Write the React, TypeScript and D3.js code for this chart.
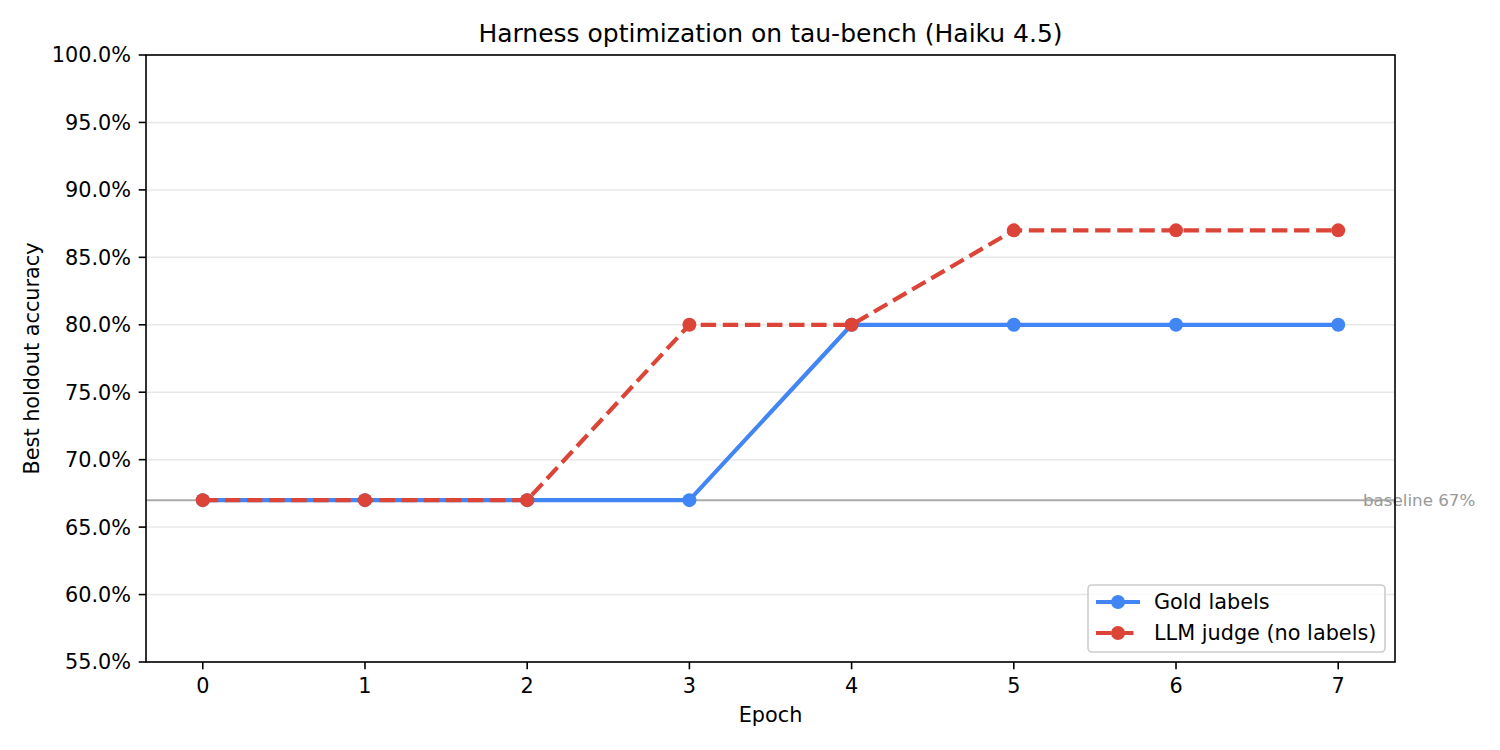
import React from "react";
import * as d3 from "d3";

const epochs = [0, 1, 2, 3, 4, 5, 6, 7];
const goldLabels = [67, 67, 67, 67, 80, 80, 80, 80];
const llmJudge = [67, 67, 67, 80, 80, 87, 87, 87];
const yTicks = [55, 60, 65, 70, 75, 80, 85, 90, 95, 100];
const baselineValue = 67;
const seriesNames = ["Gold labels", "LLM judge (no labels)"];

const W = 1500, H = 750;
const L = 146, R = 1395, T = 55, B = 662;
const BLUE = "#4285F4";
const RED = "#DB4437";
const FONT = "DejaVu Sans, sans-serif";
const FS = 20.8;

export default function App() {
  const x = d3.scaleLinear().domain([-0.35, 7.35]).range([L, R]);
  const y = d3.scaleLinear().domain([55, 100]).range([B, T]);
  const line = d3.line<number>().x((_, i) => x(epochs[i])).y((d) => y(d));

  return (
    <svg width={W} height={H} style={{ position: "absolute", left: 0, top: 0, background: "#fff" }} fontFamily={FONT}>
      <rect x={0} y={0} width={W} height={H} fill="#fff" />
      {yTicks.map((t) => (
        <line key={"g" + t} x1={L} x2={R} y1={y(t)} y2={y(t)} stroke="#e8e8e8" strokeWidth={1.5} />
      ))}
      <line x1={L} x2={R} y1={y(baselineValue)} y2={y(baselineValue)} stroke="#aaaaaa" strokeWidth={2} />
      <text x={1363} y={y(baselineValue)} dy="0.35em" fontSize={16.7} fill="#999999">baseline 67%</text>
      <path d={line(goldLabels) || ""} fill="none" stroke={BLUE} strokeWidth={4.2} strokeLinejoin="round" />
      {goldLabels.map((v, i) => (
        <circle key={"b" + i} cx={x(epochs[i])} cy={y(v)} r={7} fill={BLUE} />
      ))}
      <path d={line(llmJudge) || ""} fill="none" stroke={RED} strokeWidth={4.2} strokeDasharray="15.4 6.7" />
      {llmJudge.map((v, i) => (
        <circle key={"r" + i} cx={x(epochs[i])} cy={y(v)} r={7} fill={RED} />
      ))}
      <rect x={L} y={T} width={R - L} height={B - T} fill="none" stroke="#000" strokeWidth={1.6} />
      {yTicks.map((t) => (
        <g key={"y" + t}>
          <line x1={L - 7.3} x2={L} y1={y(t)} y2={y(t)} stroke="#000" strokeWidth={1.6} />
          <text x={L - 15} y={y(t)} dy="0.36em" textAnchor="end" fontSize={FS} fill="#000">{t.toFixed(1) + "%"}</text>
        </g>
      ))}
      {epochs.map((e) => (
        <g key={"x" + e}>
          <line x1={x(e)} x2={x(e)} y1={B} y2={B + 7.3} stroke="#000" strokeWidth={1.6} />
          <text x={x(e)} y={B + 31} textAnchor="middle" fontSize={FS} fill="#000">{e}</text>
        </g>
      ))}
      <text x={(L + R) / 2} y={722} textAnchor="middle" fontSize={FS} fill="#000">Epoch</text>
      <text transform={`translate(39, ${(T + B) / 2}) rotate(-90)`} textAnchor="middle" fontSize={FS} fill="#000">Best holdout accuracy</text>
      <text x={(L + R) / 2} y={42} textAnchor="middle" fontSize={25} fill="#000">Harness optimization on tau-bench (Haiku 4.5)</text>
      <rect x={1088} y={585} width={297} height={67} rx={4} fill="#fff" fillOpacity={0.8} stroke="#cccccc" strokeWidth={1.6} />
      {seriesNames.map((name, i) => {
        const cy = 602 + i * 31;
        const c = i === 0 ? BLUE : RED;
        return (
          <g key={name}>
            <line x1={1096} x2={1140} y1={cy} y2={cy} stroke={c} strokeWidth={4.2} strokeDasharray={i === 1 ? "15.4 6.7" : undefined} />
            <circle cx={1118} cy={cy} r={7} fill={c} />
            <text x={1154} y={cy} dy="0.36em" fontSize={FS} fill="#000">{name}</text>
          </g>
        );
      })}
    </svg>
  );
}
